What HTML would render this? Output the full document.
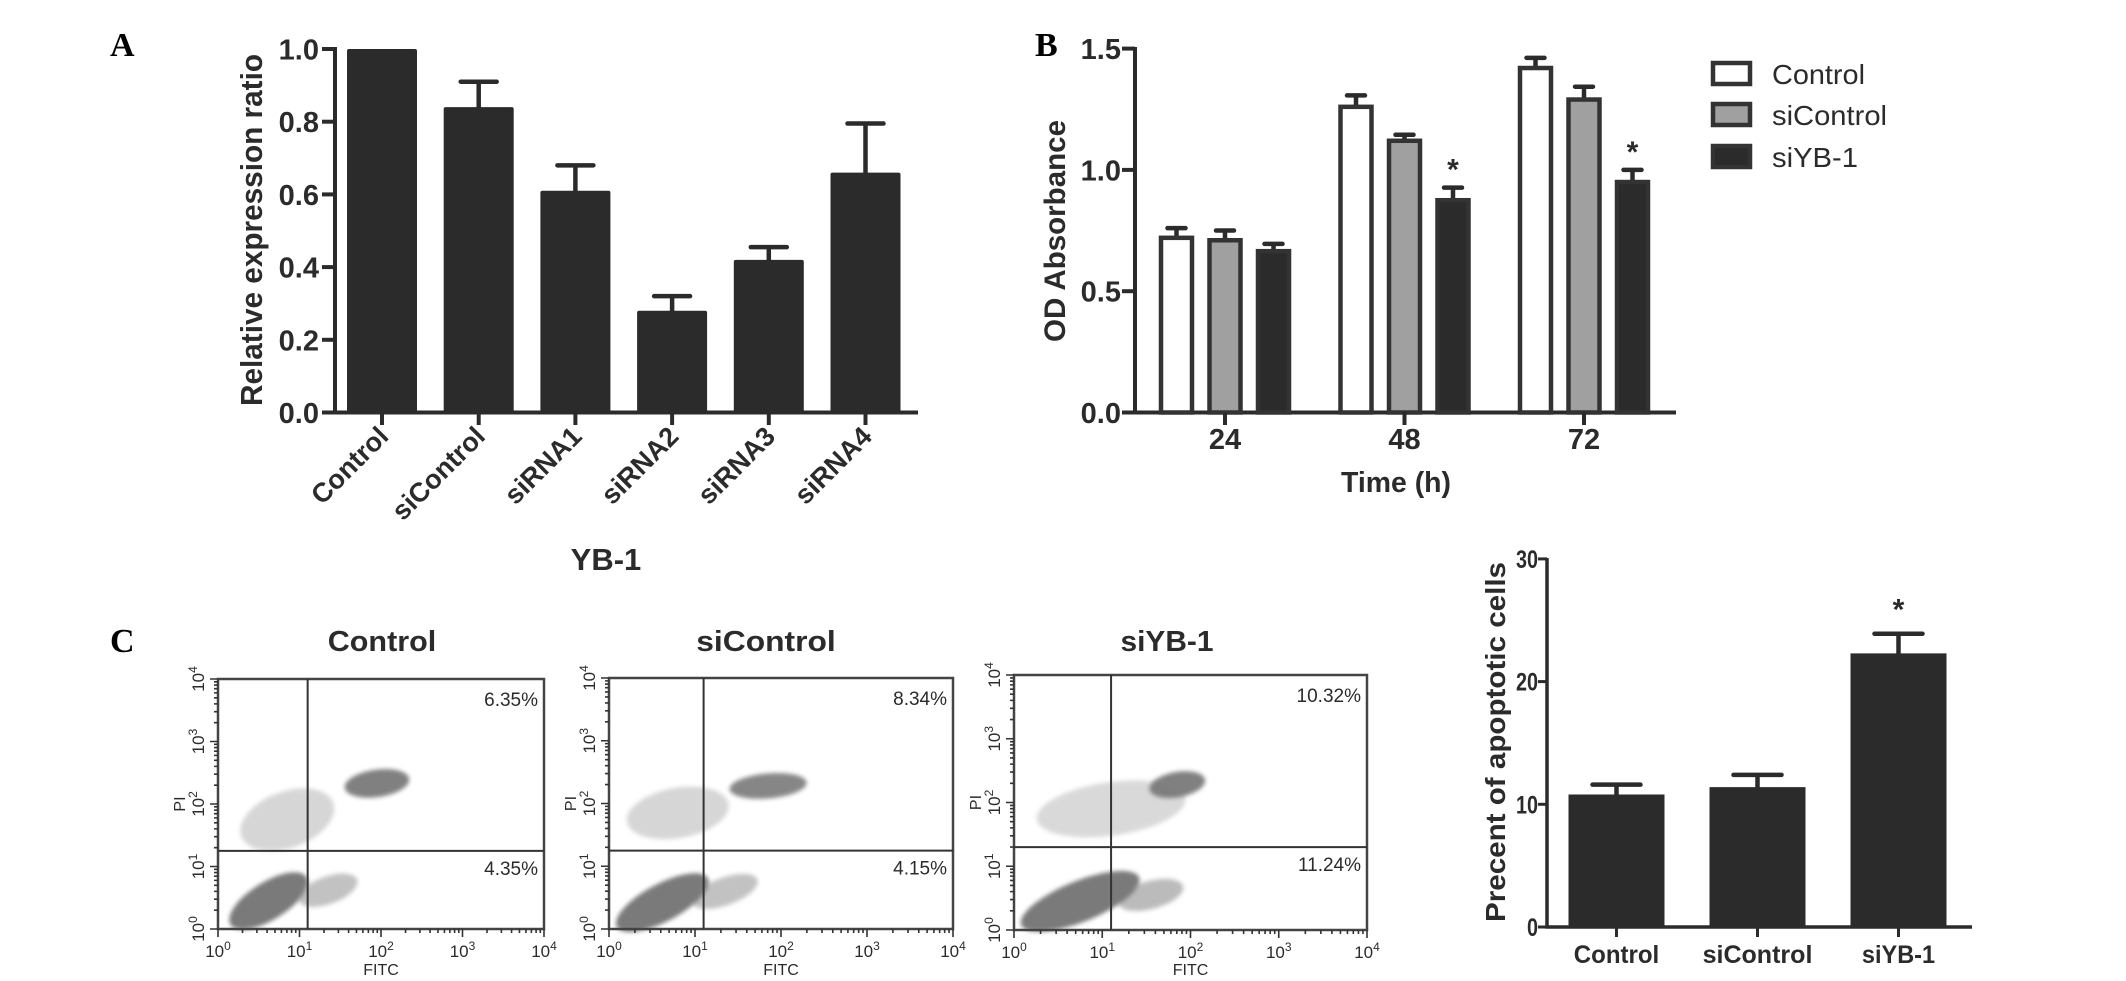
<!DOCTYPE html>
<html><head><meta charset="utf-8">
<style>
html,body{margin:0;padding:0;background:#fff;}
svg{display:block;}
text{font-family:"Liberation Sans",Arial,sans-serif;fill:#2b2b2b;}
.b{font-weight:bold;}
.lab{font-family:"Liberation Serif",serif;font-weight:bold;fill:#000;}
</style></head>
<body>
<svg id="fig" width="2126" height="981" viewBox="0 0 2126 981" xmlns="http://www.w3.org/2000/svg">
<defs>
<filter id="soft" x="-20%" y="-20%" width="140%" height="140%"><feGaussianBlur stdDeviation="2.2"/></filter>
</defs>
<text class="lab" x="110" y="56" font-size="34">A</text>
<text class="lab" x="1035" y="56" font-size="34">B</text>
<text class="lab" x="110" y="652" font-size="34">C</text>

<g id="panelA"></g>
<text class="b" transform="translate(262,230) rotate(-90)" text-anchor="middle" font-size="31" textLength="352" lengthAdjust="spacingAndGlyphs">Relative expression ratio</text>
<text class="b" x="606" y="570" text-anchor="middle" font-size="31">YB-1</text>

<g id="panelB"></g>
<text class="b" transform="translate(1065,231) rotate(-90)" text-anchor="middle" font-size="30" textLength="222" lengthAdjust="spacingAndGlyphs">OD Absorbance</text>
<text class="b" x="1396" y="492" text-anchor="middle" font-size="29" textLength="110" lengthAdjust="spacingAndGlyphs">Time (h)</text>

<g>
 <g>
  <rect x="1713" y="63" width="37" height="21" fill="#fff" stroke="#333" stroke-width="4.5"/>
  <text x="1772" y="84" font-size="28" textLength="93" lengthAdjust="spacingAndGlyphs">Control</text>
 </g>
 <g>
  <rect x="1713" y="104" width="37" height="21" fill="#a0a0a0" stroke="#333" stroke-width="4.5"/>
  <text x="1772" y="125" font-size="28" textLength="115" lengthAdjust="spacingAndGlyphs">siControl</text>
 </g>
 <g>
  <rect x="1713" y="146" width="37" height="21" fill="#2b2b2b" stroke="#333" stroke-width="4.5"/>
  <text x="1772" y="167" font-size="28" textLength="86" lengthAdjust="spacingAndGlyphs">siYB-1</text>
 </g>
</g>

<g id="flow"></g>

<g id="panelC"></g>
<text class="b" transform="translate(1505,742) rotate(-90)" text-anchor="middle" font-size="28" textLength="360" lengthAdjust="spacingAndGlyphs">Precent of apoptotic cells</text>
</svg>

<script>
// ---------- Panel A data ----------
const catsA = ["Control","siControl","siRNA1","siRNA2","siRNA3","siRNA4"];
const valsA = [1.0,0.84,0.61,0.28,0.42,0.66];
const errA = [0,0.07,0.07,0.04,0.035,0.135];
const ticksA = ["0.0","0.2","0.4","0.6","0.8","1.0"];
// ---------- Panel B data ----------
const groupsB = ["24","48","72"];
const seriesB = ["Control","siControl","siYB-1"];
const ctrlB = [0.72,1.26,1.42];
const sictrlB = [0.71,1.12,1.29];
const siybB = [0.665,0.875,0.95];
const ctrlErrB = [0.04,0.047,0.042];
const sictrlErrB = [0.04,0.025,0.053];
const siybErrB = [0.03,0.052,0.05];
const starB = [false,true,true];
const ticksB = ["0.0","0.5","1.0","1.5"];
// ---------- Panel C bar data ----------
const catsC = ["Control","siControl","siYB-1"];
const valsC = [10.8,11.4,22.3];
const errC = [0.8,1.0,1.6];
const starC = [false,false,true];
const ticksC = ["0","10","20","30"];
// ---------- Flow data ----------
const flowTitles = ["Control","siControl","siYB-1"];
const flowUR = ["6.35%","8.34%","10.32%"];
const flowLR = ["4.35%","4.15%","11.24%"];
// clusters: [logX, logY, rx(dec), ry(dec), rotation deg, opacity]
const clusters1 = [[0.85,1.75,0.6,0.45,-20,0.3],[1.35,0.62,0.38,0.22,-20,0.45],[0.62,0.45,0.55,0.3,-32,1],[1.95,2.33,0.4,0.22,-8,0.95]];
const clusters2 = [[0.8,1.85,0.6,0.4,-10,0.3],[1.35,0.6,0.4,0.22,-20,0.45],[0.62,0.42,0.6,0.3,-28,1],[1.85,2.28,0.45,0.2,-5,0.9]];
const clusters3 = [[1.1,1.9,0.85,0.42,-8,0.28],[1.55,0.55,0.38,0.22,-15,0.5],[0.75,0.45,0.72,0.32,-22,1],[1.85,2.28,0.32,0.2,-10,0.95]];
const flowClusters = [clusters1,clusters2,clusters3];
const quadX = [1.1,1.1,1.1];
const quadY = [1.25,1.25,1.3];

const NS = "http://www.w3.org/2000/svg";
function mk(tag, attrs, parent){const e=document.createElementNS(NS,tag);for(const k in attrs)e.setAttribute(k,attrs[k]);parent.appendChild(e);return e;}

// ---------- Panel A ----------
(function(){
const g=document.getElementById("panelA");
const yA=v=>412.5-v*363.5;
const xA=i=>382+i*96.7;
const ax=mk("path",{d:"M335,47 L335,412.5 L918,412.5",fill:"none",stroke:"#2b2b2b","stroke-width":4},g);


ticksA.forEach((t,i)=>{
 const v=parseFloat(t);
 const tk=mk("line",{x1:322,x2:335,y1:yA(v),y2:yA(v),stroke:"#2b2b2b","stroke-width":4},g);
 
 
 const tx=mk("text",{x:319,y:yA(v)+10.5,"text-anchor":"end","font-size":29,"class":"b"},g);
 tx.textContent=t;
 
 
});
catsA.forEach((c,i)=>{
 const x=xA(i),y=yA(valsA[i]);
 if(errA[i]>0){
  const e=mk("path",{d:`M${x},${y} L${x},${yA(valsA[i]+errA[i])} M${x-18},${yA(valsA[i]+errA[i])} L${x+18},${yA(valsA[i]+errA[i])}`,stroke:"#2b2b2b","stroke-width":4.5,"stroke-linecap":"round",fill:"none"},g);
  
  
 }
 const r=mk("rect",{x:x-35,y:y,width:70,height:412.5-y,fill:"#2b2b2b",rx:2},g);
 
 
 const tk=mk("line",{x1:x,x2:x,y1:412,y2:425,stroke:"#2b2b2b","stroke-width":4},g);
 
 
 const tx=mk("text",{transform:`translate(${x+8},${438}) rotate(-45)`,"text-anchor":"end","font-size":27,"class":"b"},g);
 tx.textContent=c;
 
 
});
})();

// ---------- Panel B ----------
(function(){
const g=document.getElementById("panelB");
const yB=v=>412.5-v/1.5*363.9;
const xB=(gi,s)=>1225+gi*179.5+(s-1)*48.5;
const ax=mk("path",{d:"M1135,47 L1135,412.5 L1676,412.5",fill:"none",stroke:"#2b2b2b","stroke-width":4},g);


ticksB.forEach(t=>{
 const v=parseFloat(t);
 const tk=mk("line",{x1:1122,x2:1135,y1:yB(v),y2:yB(v),stroke:"#2b2b2b","stroke-width":4},g);
 
 
 const tx=mk("text",{x:1121,y:yB(v)+10.5,"text-anchor":"end","font-size":29,"class":"b"},g);
 tx.textContent=t;
 
 
});
const vals=[ctrlB,sictrlB,siybB], errs=[ctrlErrB,sictrlErrB,siybErrB], fills=["#ffffff","#a0a0a0","#2b2b2b"];
groupsB.forEach((gl,gi)=>{
 for(let s=0;s<3;s++){
  const x=xB(gi,s),v=vals[s][gi],y=yB(v),ye=yB(v+errs[s][gi]);
  const e=mk("path",{d:`M${x},${y} L${x},${ye} M${x-9},${ye} L${x+9},${ye}`,stroke:"#2b2b2b","stroke-width":4.5,"stroke-linecap":"round",fill:"none"},g);
  
  
  const r=mk("rect",{x:x-15.5,y:y,width:31,height:412.5-y,fill:fills[s],stroke:"#333","stroke-width":4.5},g);
  
  
 }
 if(starB[gi]){
  const x=xB(gi,2),ye=yB(siybB[gi]+siybErrB[gi]);
  const st=mk("text",{x:x,y:ye-8,"text-anchor":"middle","font-size":30,"class":"b"},g);
  st.textContent="*";
  
  
 }
 const cx=xB(gi,1);
 const tk=mk("line",{x1:cx,x2:cx,y1:412,y2:425,stroke:"#2b2b2b","stroke-width":4},g);
 
 
 const tx=mk("text",{x:cx,y:449,"text-anchor":"middle","font-size":29,"class":"b"},g);
 tx.textContent=gl;
 
 
});
})();

// ---------- Flow plots ----------
(function(){
const g=document.getElementById("flow");
const frames=[{l:218,r:544,t:679,b:929,tc:382},{l:609,r:953,t:678,b:929,tc:766},{l:1014,r:1367,t:675,b:930,tc:1167}];
frames.forEach((f,p)=>{
 const pg=mk("g",{},g);
 
 
 const dx=(f.r-f.l)/4, dy=(f.b-f.t)/4;
 const X=v=>f.l+v*dx, Y=v=>f.b-v*dy;
 const tt=mk("text",{x:f.tc,y:651,"text-anchor":"middle","font-size":29,"class":"b",textLength:flowTitles[p].length*15.5,lengthAdjust:"spacingAndGlyphs"},pg);
 tt.textContent=flowTitles[p];
 
 
 flowClusters[p].forEach(c=>{
  const el=mk("ellipse",{cx:X(c[0]),cy:Y(c[1]),rx:c[2]*dx,ry:c[3]*dy,transform:`rotate(${c[4]} ${X(c[0])} ${Y(c[1])})`,fill:"#7a7a7a",opacity:c[5],filter:"url(#soft)"},pg);
  
  
 });
 const fr=mk("rect",{x:f.l,y:f.t,width:f.r-f.l,height:f.b-f.t,fill:"none",stroke:"#444","stroke-width":2.5},pg);
 
 
 const q=mk("path",{d:`M${X(quadX[p])},${f.t} L${X(quadX[p])},${f.b} M${f.l},${Y(quadY[p])} L${f.r},${Y(quadY[p])}`,stroke:"#333","stroke-width":2},pg);
 
 
 const ur=mk("text",{x:f.r-6,y:f.t+27,"text-anchor":"end","font-size":19,fill:"#333"},pg);
 ur.textContent=flowUR[p];
 
 
 const lr=mk("text",{x:f.r-6,y:Y(quadY[p])+24,"text-anchor":"end","font-size":19,fill:"#333"},pg);
 lr.textContent=flowLR[p];
 
 
 let d="";
 for(let k=0;k<4;k++){for(let m=1;m<10;m++){const lv=k+Math.log10(m);const len=m===1?8:4;
   d+=`M${X(lv)},${f.b} L${X(lv)},${f.b+len} `;
   d+=`M${f.l},${Y(lv)} L${f.l-len},${Y(lv)} `;}}
 d+=`M${X(4)},${f.b} L${X(4)},${f.b+8} M${f.l},${Y(4)} L${f.l-8},${Y(4)}`;
 const tk=mk("path",{d:d,stroke:"#333","stroke-width":1.6,fill:"none"},pg);
 
 
 for(let k=0;k<=4;k++){
  const tx=mk("text",{x:X(k),y:f.b+28,"text-anchor":"middle","font-size":17,fill:"#444"},pg);
  tx.innerHTML='10<tspan dy="-7" font-size="12">'+k+'</tspan>';
  
  
  const ty=mk("text",{transform:`translate(${f.l-14},${Y(k)}) rotate(-90)`,"text-anchor":"middle","font-size":17,fill:"#444"},pg);
  ty.innerHTML='10<tspan dy="-7" font-size="12">'+k+'</tspan>';
  
  
 }
 const fx=mk("text",{x:X(2),y:975,"text-anchor":"middle","font-size":16,fill:"#444"},pg);
 fx.textContent="FITC";
 
 
 const pi=mk("text",{transform:`translate(${f.l-33},${Y(2)}) rotate(-90)`,"text-anchor":"middle","font-size":16,fill:"#444"},pg);
 pi.textContent="PI";
 
 
});
})();

// ---------- Panel C bars ----------
(function(){
const g=document.getElementById("panelC");
const yC=v=>927-v*12.27;
const xC=i=>1616.5+i*141;
const ax=mk("path",{d:"M1547,558 L1547,927 L1972,927",fill:"none",stroke:"#2b2b2b","stroke-width":3.5},g);


ticksC.forEach(t=>{
 const v=parseFloat(t);
 const tk=mk("line",{x1:1538,x2:1547,y1:yC(v),y2:yC(v),stroke:"#2b2b2b","stroke-width":3},g);
 
 
 const tx=mk("text",{x:1538,y:yC(v)+9,"text-anchor":"end","font-size":25,"class":"b",textLength:t.length*11,lengthAdjust:"spacingAndGlyphs"},g);
 tx.textContent=t;
 
 
});
catsC.forEach((c,i)=>{
 const x=xC(i),y=yC(valsC[i]),ye=yC(valsC[i]+errC[i]);
 const e=mk("path",{d:`M${x},${y} L${x},${ye} M${x-24},${ye} L${x+24},${ye}`,stroke:"#2b2b2b","stroke-width":4.5,"stroke-linecap":"round",fill:"none"},g);
 
 
 const r=mk("rect",{x:x-48,y:y,width:96,height:927-y,fill:"#2b2b2b"},g);
 
 
 const tk=mk("line",{x1:x,x2:x,y1:927,y2:937,stroke:"#2b2b2b","stroke-width":3},g);
 
 
 const tx=mk("text",{x:x,y:963,"text-anchor":"middle","font-size":25,"class":"b",textLength:c.length*12.2,lengthAdjust:"spacingAndGlyphs"},g);
 tx.textContent=c;
 
 
 if(starC[i]){
  const st=mk("text",{x:x,y:ye-14,"text-anchor":"middle","font-size":30,"class":"b"},g);
  st.textContent="*";
  
  
 }
});
})();
</script>
</body></html>
